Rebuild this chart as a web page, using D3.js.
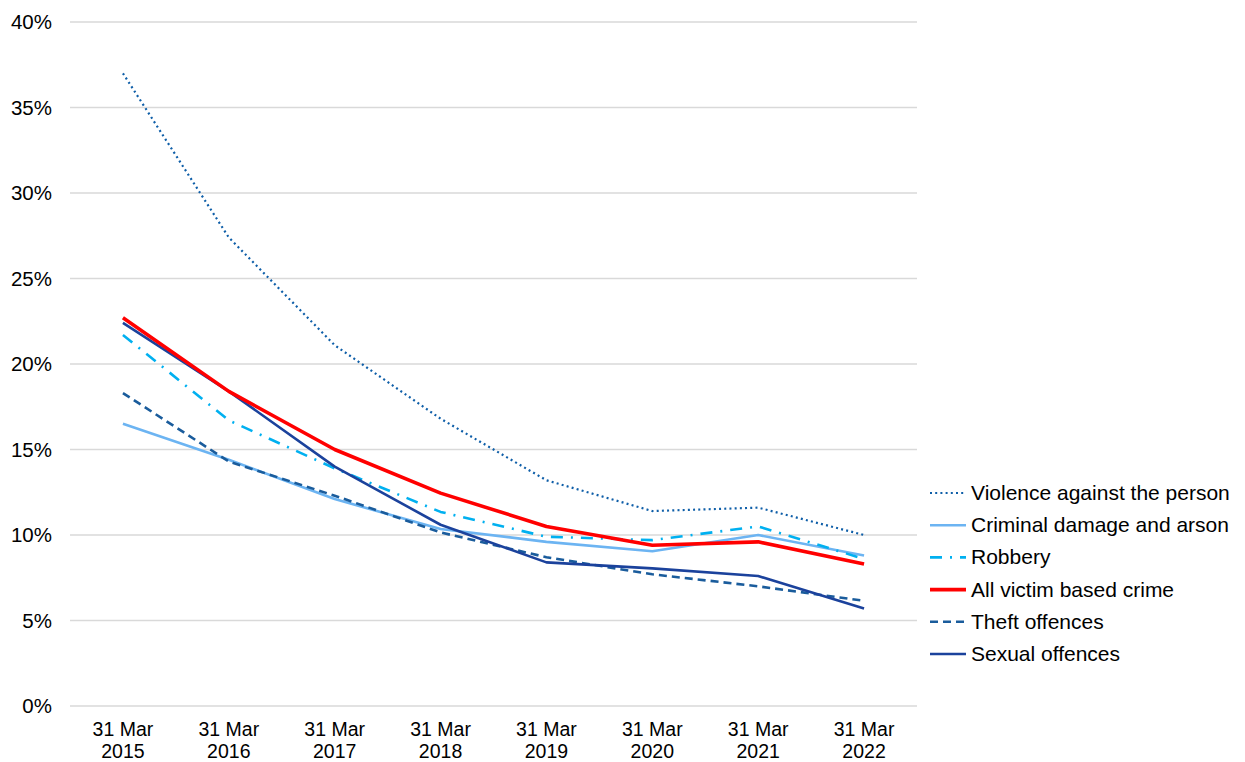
<!DOCTYPE html>
<html><head><meta charset="utf-8">
<script src="https://cdn.jsdelivr.net/npm/d3@7"></script>
<style>body{margin:0;background:#fff}svg{display:block}text{font-family:"Liberation Sans",Arial,sans-serif;fill:#000}</style>
</head><body>
<svg id="c" width="1245" height="762"></svg>
<script>
const categories = ["31 Mar 2015","31 Mar 2016","31 Mar 2017","31 Mar 2018","31 Mar 2019","31 Mar 2020","31 Mar 2021","31 Mar 2022"];
const yTicks = [0,5,10,15,20,25,30,35,40];
const violence = [37.0,27.4,21.1,16.8,13.2,11.4,11.6,10.0];
const criminal = [16.5,14.4,12.1,10.35,9.6,9.05,10.0,8.8];
const robbery  = [21.7,16.7,13.9,11.35,9.9,9.7,10.5,8.6];
const allCrime = [22.7,18.4,15.0,12.45,10.5,9.4,9.6,8.3];
const theft    = [18.3,14.3,12.3,10.15,8.7,7.7,7.0,6.15];
const sexual   = [22.4,18.4,14.0,10.6,8.4,8.05,7.6,5.7];
const seriesNames = ["Violence against the person","Criminal damage and arson","Robbery","All victim based crime","Theft offences","Sexual offences"];
const seriesData = [violence,criminal,robbery,allCrime,theft,sexual];
const seriesColor = ["#0e5ea8","#6cb4f2","#00b0f0","#ff0000","#1a5c9c","#1b429c"];
const seriesWidth = [2.2,2.6,2.6,3.6,2.6,2.6];
const seriesDash = ["2,3.2","none","12,8,2,8","none","8,5","none"];

const svg = d3.select("#c");
const x = d3.scaleBand().domain(categories).range([70,917]);
const y = d3.scaleLinear().domain([0,40]).range([706,22]);
const fs = 20.5;

svg.append("g").selectAll("line").data(yTicks).join("line")
  .attr("x1",70).attr("x2",917).attr("y1",d=>y(d)).attr("y2",d=>y(d))
  .attr("stroke","#d9d9d9").attr("stroke-width",1.3);
svg.append("g").selectAll("text").data(yTicks).join("text")
  .attr("x",52).attr("y",d=>y(d)+7).attr("text-anchor","end")
  .attr("font-size",fs).text(d=>d+"%");
const xg = svg.append("g");
xg.selectAll("text.l1").data(categories).join("text").attr("class","l1")
  .attr("x",d=>x(d)+x.bandwidth()/2).attr("y",735.5).attr("text-anchor","middle")
  .attr("font-size",19.5).text(d=>d.split(" ").slice(0,2).join(" "));
xg.selectAll("text.l2").data(categories).join("text").attr("class","l2")
  .attr("x",d=>x(d)+x.bandwidth()/2).attr("y",757.5).attr("text-anchor","middle")
  .attr("font-size",19.5).text(d=>d.split(" ")[2]);

const line = d3.line().x((d,i)=>x(categories[i])+x.bandwidth()/2).y(d=>y(d));
const order = [0,1,2,4,5,3];
order.forEach(k=>{
  svg.append("path").attr("d",line(seriesData[k])).attr("fill","none")
    .attr("stroke",seriesColor[k]).attr("stroke-width",seriesWidth[k])
    .attr("stroke-dasharray",seriesDash[k]).attr("stroke-linejoin","round");
});

const lg = svg.append("g").selectAll("g").data(seriesNames).join("g")
  .attr("transform",(d,i)=>`translate(930,${493+i*32.2})`);
lg.append("line").attr("x1",0).attr("x2",36).attr("y1",0).attr("y2",0)
  .attr("stroke",(d,i)=>seriesColor[i]).attr("stroke-width",(d,i)=>seriesWidth[i])
  .attr("stroke-dasharray",(d,i)=>seriesDash[i]);
lg.append("text").attr("x",41).attr("y",7).attr("font-size",fs+0.5).text(d=>d);
</script>
</body></html>
